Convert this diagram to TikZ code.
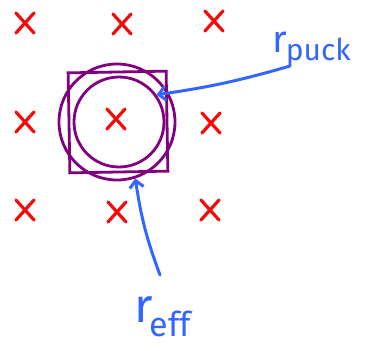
\documentclass[tikz,border=0pt]{standalone}
\usepackage{fontspec}
\setmainfont{Fira Sans}
\usetikzlibrary{shapes.misc,arrows.meta}
\definecolor{xred}{RGB}{245,10,10}
\definecolor{ppl}{RGB}{128,0,128}
\definecolor{pen}{RGB}{51,102,255}
\tikzset{
  xmark/.style={cross out,draw=xred,line width=3.2pt,line cap=round,inner sep=0pt,minimum width=15pt,minimum height=17pt},
  purp/.style={draw=ppl,line width=2.8pt},
  penarrow/.style={draw=pen,line width=3pt,line cap=round,-{Straight Barb[length=7pt,width=14pt,line width=3pt]}},
  lbl/.style={text=pen,inner sep=0pt}
}
\begin{document}
\begin{tikzpicture}[x=1pt,y=-1pt]
\useasboundingbox (0,0) rectangle (365,351);
% crosses
\node[xmark] (c11) at (25,23) {};
\node[xmark] (c12) at (122,24) {};
\node[xmark] (c13) at (214,21) {};
\node[xmark] (c21) at (25,122) {};
\node[xmark] (c22) at (116,119) {};
\node[xmark] (c23) at (211,123) {};
\node[xmark] (c31) at (25,210) {};
\node[xmark] (c32) at (117,212) {};
\node[xmark] (c33) at (210,210) {};
% square and circles
\node[purp,rectangle,minimum width=98pt,minimum height=100pt,inner sep=0pt,rotate=1] (sq) at (118,122) {};
\node[purp,circle,minimum size=116pt,inner sep=0pt] (outer) at (117,122) {};
\node[purp,circle,minimum size=90pt,inner sep=0pt] (inner) at (119,122) {};
% labels
\node[lbl,anchor=base west] (rp) at (272,52) {\fontsize{38}{38}\selectfont r\kern-1pt\raisebox{-8pt}{\fontsize{30}{30}\selectfont puck}};
\node[lbl,anchor=base west] (re) at (134,322) {\fontsize{48}{48}\selectfont r\kern-3pt\raisebox{-14pt}{\fontsize{34}{34}\selectfont eff}};
\coordinate (rpt) at (290,66);
\coordinate (ret) at (160,275);
% arrows
\draw[penarrow] (rpt) to[bend left=4] (inner.36);
\draw[penarrow] (ret) to[bend left=6] (outer.-72);
\end{tikzpicture}
\end{document}
